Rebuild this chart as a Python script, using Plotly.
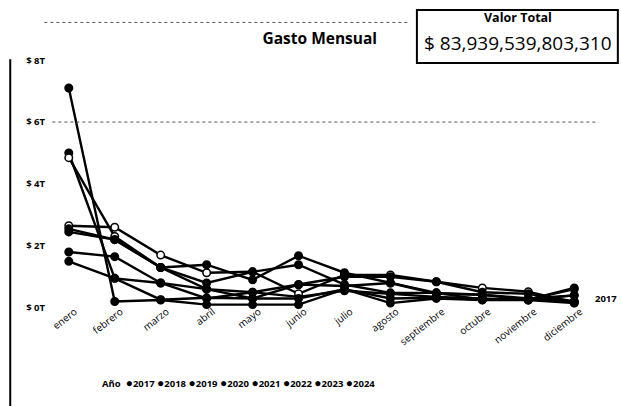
import plotly.graph_objects as go

meses = ["enero", "febrero", "marzo", "abril", "mayo", "junio", "julio",
         "agosto", "septiembre", "octubre", "noviembre", "diciembre"]
anios = ["2017", "2018", "2019", "2020", "2021", "2022", "2023", "2024"]

# valores en billones (T)
v2017 = [7.1, 0.2, 0.25, 0.1, 0.1, 0.1, 0.6, 0.15, 0.3, 0.25, 0.25, 0.15]
v2018 = [5.0, 0.95, 0.8, 0.3, 0.5, 0.35, 0.55, 0.45, 0.35, 0.3, 0.25, 0.4]
v2019 = [4.85, 2.3, 1.3, 0.6, 0.3, 0.75, 0.7, 0.8, 0.45, 0.42, 0.3, 0.2]
v2020 = [2.65, 2.6, 1.7, 1.13, 1.16, 0.45, 1.06, 1.06, 0.84, 0.64, 0.52, 0.16]
v2021 = [2.55, 2.2, 1.3, 1.39, 0.9, 1.68, 1.13, 0.8, 0.48, 0.42, 0.26, 0.64]
v2022 = [2.45, 2.2, 1.3, 0.8, 1.16, 1.39, 0.75, 0.48, 0.48, 0.26, 0.3, 0.4]
v2023 = [1.8, 1.65, 0.8, 0.6, 0.5, 0.74, 1.0, 1.0, 0.84, 0.5, 0.45, 0.2]
v2024 = [1.5, 0.95, 0.26, 0.32, 0.3, 0.3, 0.6, 0.3, 0.32, 0.26, 0.26, 0.6]
series = [v2017, v2018, v2019, v2020, v2021, v2022, v2023, v2024]
marker_fill = ["black", "black", "white", "white", "black", "black", "black", "black"]

tick_vals = [0, 2, 4, 6, 8]
tick_text = ["<b>$ 0T</b>", "<b>$ 2T</b>", "<b>$ 4T</b>", "<b>$ 6T</b>", "<b>$ 8T</b>"]
valor_total = "$ 83,939,539,803,310"

FONT = "Open Sans"
fig = go.Figure()
for name, vals, fill in zip(anios, series, marker_fill):
    fig.add_trace(go.Scatter(
        x=meses, y=vals, mode="lines+markers", name=name, showlegend=False,
        line=dict(color="black", width=2.4),
        marker=dict(size=7.5, color=fill, line=dict(color="black", width=1.5)),
    ))

fig.update_layout(
    width=621, height=406,
    margin=dict(l=55, r=33, t=54, b=89, autoexpand=False),
    paper_bgcolor="white", plot_bgcolor="white",
    font=dict(family=FONT, color="black", size=11),
    title=dict(text="<b>Gasto Mensual</b>", x=0.515, xanchor="center",
               y=0.906, yanchor="middle", font=dict(size=15.5, family=FONT)),
    xaxis=dict(range=[-0.3, 11.3], tickangle=-38, showgrid=False, automargin=False,
               showline=False, zeroline=False, ticks="",
               ticklabelstandoff=-14, ticklabelshift=6,
               tickfont=dict(size=10, family=FONT)),
    yaxis=dict(range=[-0.3, 8.2], tickvals=tick_vals, ticktext=tick_text,
               showgrid=False, zeroline=False, showline=False, automargin=False,
               ticklabelstandoff=9,
               tickfont=dict(size=9.5, family=FONT)),
    showlegend=False,
)

# gridline dotted at 6T and top dotted border
fig.add_shape(type="line", xref="paper", yref="y", x0=-0.005, x1=1.02, y0=6, y1=6,
              line=dict(color="#555", width=1, dash="dot"))
fig.add_shape(type="line", xref="paper", yref="paper", x0=-0.02, x1=0.666,
              y0=1.12, y1=1.12, line=dict(color="#555", width=1, dash="dot"))
# left border line
fig.add_shape(type="line", xref="paper", yref="paper", x0=-0.084, x1=-0.084,
              y0=-0.36, y1=0.98, line=dict(color="black", width=2))

# Valor total card
fig.add_shape(type="rect", xref="paper", yref="paper",
              x0=0.679, x1=1.056, y0=0.966, y1=1.167,
              line=dict(color="black", width=2), fillcolor="white")
fig.add_annotation(xref="paper", yref="paper", x=0.868, y=1.14, showarrow=False,
                   xanchor="center", yanchor="middle",
                   text="<b>Valor Total</b>", font=dict(size=12.5, family=FONT))
fig.add_annotation(xref="paper", yref="paper", x=0.868, y=1.04, showarrow=False,
                   xanchor="center", yanchor="middle",
                   text=valor_total, font=dict(size=19, family=FONT))

# end label
fig.add_annotation(xref="paper", yref="paper", x=1.058, y=0.0706, showarrow=False,
                   text="<b>" + anios[0] + "</b>", xanchor="right", yanchor="middle",
                   font=dict(size=9.5, family=FONT))

# legend row
dot = "<span style='font-size:12px'>●</span>"
legend_text = "<b>Año </b>" + "".join(" " + dot + "<b>" + a + "</b>" for a in anios)
fig.add_annotation(xref="paper", yref="paper", x=0.084, y=-0.25, showarrow=False,
                   xanchor="left", yanchor="middle", text=legend_text,
                   font=dict(size=9.5, family=FONT))

fig.write_html(
    "out.html",
    config={"displayModeBar": False},
    post_script="document.body.style.margin='0';document.body.style.overflow='hidden';",
)
